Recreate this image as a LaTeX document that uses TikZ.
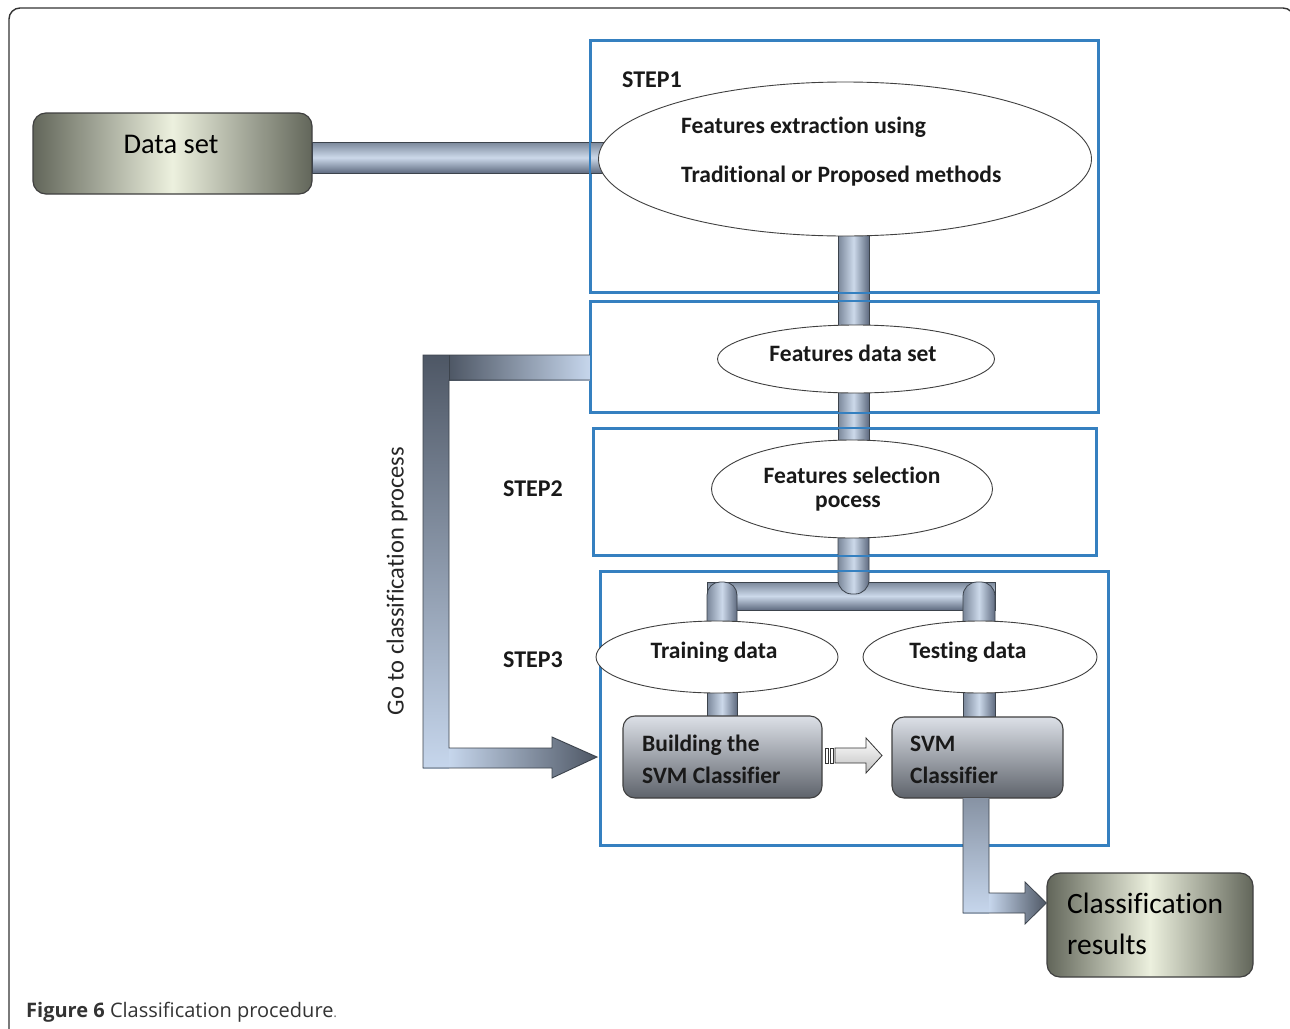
\documentclass[tikz,border=0pt]{standalone}
\usepackage{fontspec}
\setmainfont[Ligatures=NoCommon]{Carlito}
\newfontfamily\capfont[Ligatures=NoCommon]{Open Sans}
\usetikzlibrary{shapes.geometric}

\definecolor{stepblue}{HTML}{3580C0}
\definecolor{pipeA}{HTML}{7A879A}
\definecolor{pipeB}{HTML}{CCD9EA}
\definecolor{pipeC}{HTML}{5F6B80}
\definecolor{pipeline}{HTML}{3C434C}
\definecolor{oliveDark}{HTML}{62665A}
\definecolor{oliveLight}{HTML}{ECF0DE}
\definecolor{boxTop}{HTML}{DCE0E7}
\definecolor{boxBot}{HTML}{5E636B}
\definecolor{arrowDark}{HTML}{4E5765}
\definecolor{arrowLight}{HTML}{C6D6EC}
\definecolor{captiongray}{HTML}{333333}

\newcommand\lblfont{\fontsize{23.5}{27}\selectfont\bfseries}

\tikzset{
  stepbox/.style={draw=stepblue, line width=2.4pt, rectangle, inner sep=0pt},
  ellnode/.style={ellipse, draw=black!75, line width=0.9pt, fill=white, inner sep=0pt},
  olivebox/.style={rectangle, rounded corners=13pt, draw=black!75, line width=1.2pt,
    left color=oliveDark, right color=oliveDark, middle color=oliveLight, inner sep=0pt},
  svmbox/.style={rectangle, rounded corners=12pt, draw=black!75, line width=1.1pt,
    top color=boxTop, bottom color=boxBot, inner sep=0pt},
  hpipe/.style={draw=pipeline, line width=0.8pt, top color=pipeA, bottom color=pipeC, middle color=pipeB},
  vpipe/.style={draw=pipeline, line width=0.8pt, left color=pipeA, right color=pipeC, middle color=pipeB},
  lbl/.style={font=\lblfont, inner sep=0pt, text=black!90},
}

\begin{document}
\begin{tikzpicture}[x=1pt,y=-1pt]
\useasboundingbox (0,0) rectangle (1290,1028);
\fill[white] (0,0) rectangle (1290,1028);

% outer frame
\draw[black!80, line width=1.4pt, rounded corners=11pt] (9,1032) -- (9,8) -- (1294,8) -- (1294,1032);

% ---------- nodes ----------
\node[olivebox, minimum width=279pt, minimum height=81pt] (dataset) at (172.5,153.5) {};
\node[olivebox, minimum width=206pt, minimum height=104pt] (results) at (1150,925) {};

\node[stepbox, minimum width=507pt, minimum height=251pt] (s1) at (844.5,166.5) {};
\node[stepbox, minimum width=507pt, minimum height=110pt] (s2) at (844.5,357) {};
\node[stepbox, minimum width=502pt, minimum height=126pt] (s3) at (845,492) {};
\node[stepbox, minimum width=507pt, minimum height=273pt] (s4) at (854.5,708.5) {};

% pipe axes and levels
\coordinate (tL) at (838,0);   \coordinate (tR) at (869,0);
\coordinate (aL) at (707,0);   \coordinate (aR) at (737,0);
\coordinate (bL) at (963,0);   \coordinate (bR) at (995,0);
\coordinate (cR) at (989,0);
\coordinate (hT) at (0,142);   \coordinate (hB) at (0,173);
\coordinate (splitT) at (0,582); \coordinate (splitB) at (0,610);
\coordinate (trunkEnd) at (0,594);
\coordinate (boxMid) at (0,740);
\coordinate (tipR) at (0,903);
\coordinate (barT) at (0,355); \coordinate (barB) at (0,380);

% ellipse positions (drawn later, above the pipes)
\coordinate (extC) at (845,159);
\coordinate (fdsC) at (856,359);
\coordinate (fspC) at (852,489);
\coordinate (trnC) at (717,657);
\coordinate (tstC) at (980,657);

% ---------- pipes ----------
\shade[hpipe] (dataset.east |- hT) rectangle (extC |- hB);
\shade[vpipe] (tL |- extC) rectangle (tR |- fdsC);
\shade[vpipe] (tL |- fdsC) rectangle (tR |- fspC);
% split bar and the two branches
\shade[hpipe] (aL |- splitT) rectangle (bR |- splitB);
\shade[vpipe, rounded corners=13pt] (aL |- trnC) -- (aL |- splitT) -- (aR |- splitT) -- (aR |- trnC);
\shade[vpipe, rounded corners=14pt] (bL |- tstC) -- (bL |- splitT) -- (bR |- splitT) -- (bR |- tstC);
\shade[vpipe, rounded corners=14pt] (tL |- fspC) -- (tL |- trunkEnd) -- (tR |- trunkEnd) -- (tR |- fspC);
% branches down to the classifier boxes
\shade[vpipe] (aL |- trnC) rectangle (aR |- boxMid);
\shade[vpipe] (bL |- tstC) rectangle (bR |- boxMid);

% step frames over the pipes
\draw[stepblue, line width=2.4pt] (s1.north west) rectangle (s1.south east);
\draw[stepblue, line width=2.4pt] (s2.north west) rectangle (s2.south east);
\draw[stepblue, line width=2.4pt] (s3.north west) rectangle (s3.south east);
\draw[stepblue, line width=2.4pt] (s4.north west) rectangle (s4.south east);

% ---------- ellipses ----------
\node[ellnode, minimum width=493pt, minimum height=154pt] (ext) at (extC) {};
\node[ellnode, minimum width=277pt, minimum height=68pt] (fds) at (fdsC) {};
\node[ellnode, minimum width=281pt, minimum height=98pt] (fsp) at (fspC) {};
\node[ellnode, minimum width=242pt, minimum height=72pt] (trn) at (trnC) {};
\node[ellnode, minimum width=234pt, minimum height=72pt] (tst) at (tstC) {};

% ---------- classifier boxes ----------
\node[svmbox, minimum width=199pt, minimum height=82pt] (build) at (722.5,757) {};
\node[svmbox, minimum width=171pt, minimum height=81pt] (svm) at (977.5,757.5) {};

% striped arrow between the two boxes
\draw[black!80, line width=0.7pt, fill=white] (825,748) rectangle (828,763);
\draw[black!80, line width=0.7pt, fill=white] (830,748) rectangle (833,763);
\shade[draw=black!80, line width=0.8pt, top color=white, bottom color=black!25]
  (835,748) -- (866,748) -- (866,738) -- (882,755.5) -- (866,773) -- (866,763) -- (835,763) -- cycle;

% bent arrow from the SVM classifier to the results
\shade[top color=pipeA!90, bottom color=arrowLight] (bL |- svm.south) rectangle (989,913);
\shade[left color=arrowLight, right color=arrowDark]
  (989,893) -- (1025,893) -- (1025,882) -- (results.west |- tipR) -- (1025,924) -- (1025,913) -- (989,913) -- cycle;
\draw[pipeline, line width=0.8pt, line join=miter]
  (bL |- svm.south) -- (963,913) -- (1025,913) -- (1025,924) -- (results.west |- tipR)
  -- (1025,882) -- (1025,893) -- (989,893) -- (cR |- svm.south);

% bent arrow from the features data set to the classifier
\shade[left color=arrowDark, right color=arrowLight] (449,355) rectangle (s2.west |- barB);
\shade[top color=arrowDark, bottom color=arrowLight] (423,355) rectangle (449,768);
\shade[left color=arrowLight, right color=arrowDark]
  (449,748) -- (552,748) -- (552,737) -- (597,757) -- (552,778) -- (552,768) -- (449,768) -- cycle;
\draw[pipeline, line width=0.9pt, line join=miter]
  (s2.west |- barT) -- (423,355) -- (423,768) -- (552,768) -- (552,778) -- (597,757)
  -- (552,737) -- (552,748) -- (449,748) -- (449,380) -- (s2.west |- barB);
\draw[pipeline, line width=0.9pt] (449,355) -- (449,380);

% ---------- texts ----------
\node[font=\fontsize{28.5}{32}\selectfont, inner sep=0pt, anchor=base] (dstxt) at (171,153) {Data set};
\node[font=\fontsize{29.5}{33}\selectfont, inner sep=0pt, anchor=base west] (res1) at (1067,913) {Classification};
\node[font=\fontsize{29.5}{33}\selectfont, inner sep=0pt, anchor=base west] (res2) at (1067,954) {results};

\node[lbl, font=\fontsize{24}{28}\selectfont\bfseries, anchor=base west] (st1) at (622,87) {STEP1};
\node[lbl, font=\fontsize{24}{28}\selectfont\bfseries, anchor=base west] (st2) at (503,496) {STEP2};
\node[lbl, font=\fontsize{24}{28}\selectfont\bfseries, anchor=base west] (st3) at (503,667) {STEP3};

\node[lbl, anchor=base west] (e1) at (681,133) {Features extraction using};
\node[lbl, anchor=base west] (e2) at (681,182) {Traditional or Proposed methods};
\node[lbl, anchor=base] (fdstxt) at (853,361) {Features data set};
\node[lbl, anchor=base] (fsp1) at (852,483) {Features selection};
\node[lbl, anchor=base] (fsp2) at (848,507) {pocess};
\node[lbl, anchor=base] (trntxt) at (714,658) {Training data};
\node[lbl, anchor=base] (tsttxt) at (968,658) {Testing data};
\node[lbl, anchor=base west] (b1) at (642,751) {Building the};
\node[lbl, anchor=base west] (b2) at (642,783) {SVM Classifier};
\node[lbl, anchor=base west] (c1) at (910,751) {SVM};
\node[lbl, anchor=base west] (c2) at (910,783) {Classifier};

\node[font=\fontsize{24.5}{28}\selectfont, rotate=90, inner sep=0pt, text=black!85] (goto) at (397,581) {Go to classification process};

\node[font=\capfont\fontsize{20}{23}\selectfont, inner sep=0pt, anchor=base west, text=captiongray] (cap) at (26,1017)
  {\textbf{Figure 6} Classification procedure{\color{black!55}\fontsize{14}{16}\selectfont.}};
\end{tikzpicture}
\end{document}
